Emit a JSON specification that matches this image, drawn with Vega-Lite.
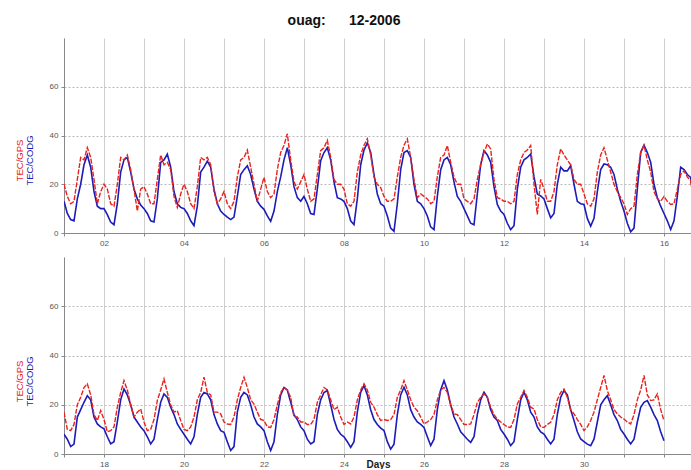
{
  "$schema": "https://vega.github.io/schema/vega-lite/v6.json",
  "background": "white",
  "padding": {"left": 14, "top": 14, "right": 0, "bottom": 0},
  "title": {"text": "ouag:\u00a0\u00a0\u00a0\u00a0\u00a0\u00a012-2006", "fontSize": 14, "font": "Liberation Sans", "fontWeight": "bold", "color": "#111", "anchor": "middle", "offset": 10, "dx": -9},
  "config": {
    "view": {"stroke": null},
    "axis": {"labelFont": "Liberation Sans", "labelFontSize": 8, "labelColor": "#555", "domainColor": "#888", "tickColor": "#888", "titleFont": "Liberation Sans"},
    "line": {"interpolate": "linear"}
  },
  "spacing": 10,
  "datasets": {
    "top": [
      {"t":1.000,"g":20,"c":13},{"t":1.083,"g":15,"c":8},{"t":1.167,"g":12,"c":5.5},{"t":1.250,"g":13,"c":5},{"t":1.333,"g":22,"c":14},{"t":1.417,"g":31,"c":20},{"t":1.500,"g":30,"c":28},{"t":1.583,"g":35,"c":32},{"t":1.667,"g":31,"c":27},{"t":1.750,"g":22,"c":17},{"t":1.833,"g":12,"c":11},{"t":1.917,"g":17,"c":10},
      {"t":2.000,"g":20,"c":10},{"t":2.083,"g":18,"c":7.5},{"t":2.167,"g":12,"c":4.5},{"t":2.250,"g":11,"c":3.4},{"t":2.333,"g":20,"c":12},{"t":2.417,"g":31,"c":25},{"t":2.500,"g":30,"c":30},{"t":2.583,"g":32,"c":31},{"t":2.667,"g":26,"c":25},{"t":2.750,"g":18,"c":18},{"t":2.833,"g":9,"c":14},{"t":2.917,"g":18,"c":11.5},
      {"t":3.000,"g":19,"c":10},{"t":3.083,"g":16,"c":8},{"t":3.167,"g":12,"c":5},{"t":3.250,"g":12,"c":4.5},{"t":3.333,"g":22,"c":14},{"t":3.417,"g":32,"c":29},{"t":3.500,"g":28,"c":30},{"t":3.583,"g":29,"c":32.4},{"t":3.667,"g":26,"c":27},{"t":3.750,"g":15,"c":17},{"t":3.833,"g":10.5,"c":12},{"t":3.917,"g":16,"c":10.5},
      {"t":4.000,"g":20,"c":10},{"t":4.083,"g":17,"c":8},{"t":4.167,"g":12,"c":5},{"t":4.250,"g":10,"c":3},{"t":4.333,"g":19,"c":11},{"t":4.417,"g":31,"c":25},{"t":4.500,"g":30,"c":27},{"t":4.583,"g":31,"c":29.5},{"t":4.667,"g":28,"c":27},{"t":4.750,"g":17,"c":18},{"t":4.833,"g":12,"c":12},{"t":4.917,"g":14,"c":9},
      {"t":5.000,"g":17,"c":7.6},{"t":5.083,"g":12,"c":6.5},{"t":5.167,"g":10,"c":5.5},{"t":5.250,"g":13,"c":6.5},{"t":5.333,"g":23,"c":15},{"t":5.417,"g":30,"c":24},{"t":5.500,"g":31,"c":26},{"t":5.583,"g":34,"c":27.6},{"t":5.667,"g":27,"c":24},{"t":5.750,"g":20,"c":18},{"t":5.833,"g":13,"c":13},{"t":5.917,"g":18,"c":11},
      {"t":6.000,"g":22.8,"c":9.7},{"t":6.083,"g":17,"c":7},{"t":6.167,"g":14.5,"c":4.8},{"t":6.250,"g":16,"c":9},{"t":6.333,"g":26,"c":17},{"t":6.417,"g":33,"c":23},{"t":6.500,"g":36,"c":30},{"t":6.583,"g":40.7,"c":35},{"t":6.667,"g":30,"c":28},{"t":6.750,"g":21,"c":19},{"t":6.833,"g":18,"c":14.5},{"t":6.917,"g":21,"c":13},
      {"t":7.000,"g":24,"c":15},{"t":7.083,"g":18,"c":12},{"t":7.167,"g":13,"c":8},{"t":7.250,"g":14,"c":7.6},{"t":7.333,"g":24,"c":18},{"t":7.417,"g":33.8,"c":29.7},{"t":7.500,"g":35,"c":33},{"t":7.583,"g":38,"c":35},{"t":7.667,"g":31,"c":30},{"t":7.750,"g":22,"c":21},{"t":7.833,"g":20,"c":14.5},{"t":7.917,"g":20,"c":14},
      {"t":8.000,"g":18,"c":13},{"t":8.083,"g":12,"c":10},{"t":8.167,"g":11,"c":5},{"t":8.250,"g":13,"c":3.4},{"t":8.333,"g":25,"c":14},{"t":8.417,"g":32,"c":28},{"t":8.500,"g":36,"c":34},{"t":8.583,"g":38.6,"c":37},{"t":8.667,"g":32,"c":33},{"t":8.750,"g":23,"c":24},{"t":8.833,"g":20,"c":16},{"t":8.917,"g":18.6,"c":12},
      {"t":9.000,"g":15,"c":11},{"t":9.083,"g":13,"c":7},{"t":9.167,"g":13,"c":2},{"t":9.250,"g":14,"c":0.7},{"t":9.333,"g":23,"c":12},{"t":9.417,"g":31,"c":26},{"t":9.500,"g":36,"c":33},{"t":9.583,"g":38.6,"c":33.8},{"t":9.667,"g":31,"c":31},{"t":9.750,"g":22,"c":20},{"t":9.833,"g":14.5,"c":13},{"t":9.917,"g":16,"c":12},
      {"t":10.000,"g":15,"c":10},{"t":10.083,"g":14,"c":7},{"t":10.167,"g":12,"c":2.5},{"t":10.250,"g":13,"c":1.4},{"t":10.333,"g":23,"c":15},{"t":10.417,"g":31,"c":26},{"t":10.500,"g":32,"c":30},{"t":10.583,"g":35.9,"c":31},{"t":10.667,"g":29,"c":28},{"t":10.750,"g":23,"c":21},{"t":10.833,"g":20,"c":15},{"t":10.917,"g":20,"c":13},
      {"t":11.000,"g":14,"c":10},{"t":11.083,"g":13,"c":7},{"t":11.167,"g":12,"c":4},{"t":11.250,"g":14,"c":3.4},{"t":11.333,"g":22,"c":16},{"t":11.417,"g":28,"c":28},{"t":11.500,"g":33,"c":33.8},{"t":11.583,"g":36.5,"c":32},{"t":11.667,"g":34.5,"c":29},{"t":11.750,"g":22,"c":19},{"t":11.833,"g":14.5,"c":11.7},{"t":11.917,"g":14,"c":9},
      {"t":12.000,"g":13,"c":7.6},{"t":12.083,"g":13,"c":4},{"t":12.167,"g":12,"c":1.4},{"t":12.250,"g":13,"c":3},{"t":12.333,"g":24,"c":18},{"t":12.417,"g":30,"c":27},{"t":12.500,"g":33,"c":30},{"t":12.583,"g":34,"c":31},{"t":12.667,"g":35.9,"c":32.4},{"t":12.750,"g":20,"c":23},{"t":12.833,"g":7.6,"c":16},{"t":12.917,"g":22,"c":15.2},
      {"t":13.000,"g":18,"c":14},{"t":13.083,"g":13,"c":10},{"t":13.167,"g":13,"c":6.2},{"t":13.250,"g":17,"c":8},{"t":13.333,"g":28,"c":20},{"t":13.417,"g":34.5,"c":27},{"t":13.500,"g":32,"c":25.5},{"t":13.583,"g":30,"c":25.5},{"t":13.667,"g":28,"c":27.6},{"t":13.750,"g":22,"c":20},{"t":13.833,"g":20,"c":13},{"t":13.917,"g":20,"c":12},
      {"t":14.000,"g":16,"c":11.7},{"t":14.083,"g":12,"c":6},{"t":14.167,"g":11,"c":2.8},{"t":14.250,"g":14,"c":6},{"t":14.333,"g":25,"c":17},{"t":14.417,"g":32,"c":26},{"t":14.500,"g":35,"c":28.3},{"t":14.583,"g":30,"c":28},{"t":14.667,"g":25,"c":27},{"t":14.750,"g":20,"c":24},{"t":14.833,"g":17,"c":18},{"t":14.917,"g":14.5,"c":13},
      {"t":15.000,"g":12,"c":9},{"t":15.083,"g":7.6,"c":4},{"t":15.167,"g":10,"c":0.5},{"t":15.250,"g":11,"c":2},{"t":15.333,"g":24,"c":18},{"t":15.417,"g":33,"c":33},{"t":15.500,"g":36,"c":36},{"t":15.583,"g":30,"c":33},{"t":15.667,"g":25,"c":29},{"t":15.750,"g":17,"c":20},{"t":15.833,"g":14,"c":14.5},{"t":15.917,"g":13,"c":11},
      {"t":16.000,"g":15,"c":8},{"t":16.083,"g":13,"c":5},{"t":16.167,"g":11.7,"c":1.4},{"t":16.250,"g":12,"c":5},{"t":16.333,"g":18,"c":15},{"t":16.417,"g":24,"c":27},{"t":16.500,"g":25.5,"c":26},{"t":16.583,"g":23,"c":24},{"t":16.667,"g":21.4,"c":22.8},{"t":16.700,"g":18,"c":18}
    ],
    "bot": [
      {"t":17.000,"g":17,"c":8},{"t":17.083,"g":10,"c":6},{"t":17.167,"g":9.5,"c":3},{"t":17.250,"g":12,"c":4},{"t":17.333,"g":20,"c":15},{"t":17.417,"g":23,"c":18},{"t":17.500,"g":27,"c":21},{"t":17.583,"g":28.5,"c":23.7},{"t":17.667,"g":24,"c":22},{"t":17.750,"g":16,"c":15},{"t":17.833,"g":13.6,"c":12.2},{"t":17.917,"g":17.6,"c":11},
      {"t":18.000,"g":14,"c":10.2},{"t":18.083,"g":9,"c":7},{"t":18.167,"g":9.5,"c":4.1},{"t":18.250,"g":11,"c":5},{"t":18.333,"g":19,"c":13},{"t":18.417,"g":25,"c":22},{"t":18.500,"g":29.8,"c":26.4},{"t":18.583,"g":26,"c":24},{"t":18.667,"g":20,"c":20},{"t":18.750,"g":15,"c":15},{"t":18.833,"g":17,"c":13},{"t":18.917,"g":18.3,"c":11},
      {"t":19.000,"g":13,"c":9.5},{"t":19.083,"g":9.5,"c":7},{"t":19.167,"g":10,"c":4.1},{"t":19.250,"g":14,"c":6},{"t":19.333,"g":21.7,"c":14},{"t":19.417,"g":26,"c":21},{"t":19.500,"g":30.5,"c":24.4},{"t":19.583,"g":25,"c":23},{"t":19.667,"g":20,"c":19},{"t":19.750,"g":17,"c":16},{"t":19.833,"g":17.6,"c":12.2},{"t":19.917,"g":13.6,"c":10},
      {"t":20.000,"g":10,"c":8},{"t":20.083,"g":9.5,"c":6},{"t":20.167,"g":11,"c":4.1},{"t":20.250,"g":15,"c":7},{"t":20.333,"g":22,"c":16},{"t":20.417,"g":25,"c":23},{"t":20.500,"g":31.2,"c":25},{"t":20.583,"g":25,"c":24.4},{"t":20.667,"g":24,"c":22},{"t":20.750,"g":17,"c":16},{"t":20.833,"g":17,"c":12.2},{"t":20.917,"g":16.3,"c":9.5},
      {"t":21.000,"g":13,"c":8.8},{"t":21.083,"g":12.2,"c":5},{"t":21.167,"g":12,"c":1.4},{"t":21.250,"g":15,"c":3},{"t":21.333,"g":22,"c":17},{"t":21.417,"g":27,"c":23},{"t":21.500,"g":31.2,"c":25},{"t":21.583,"g":27,"c":24},{"t":21.667,"g":22,"c":20},{"t":21.750,"g":20.3,"c":15},{"t":21.833,"g":17,"c":12.2},{"t":21.917,"g":14,"c":11},
      {"t":22.000,"g":13.6,"c":9.5},{"t":22.083,"g":11,"c":5},{"t":22.167,"g":10.8,"c":1.4},{"t":22.250,"g":14,"c":5},{"t":22.333,"g":20,"c":16},{"t":22.417,"g":25,"c":24},{"t":22.500,"g":27,"c":27},{"t":22.583,"g":26,"c":26},{"t":22.667,"g":23,"c":21},{"t":22.750,"g":15,"c":16},{"t":22.833,"g":15,"c":14},{"t":22.917,"g":13,"c":11},
      {"t":23.000,"g":13,"c":9.5},{"t":23.083,"g":12,"c":6},{"t":23.167,"g":12,"c":4.1},{"t":23.250,"g":14,"c":5},{"t":23.333,"g":21,"c":16},{"t":23.417,"g":24,"c":22},{"t":23.500,"g":27,"c":25},{"t":23.583,"g":26,"c":25.8},{"t":23.667,"g":22,"c":20},{"t":23.750,"g":18,"c":14},{"t":23.833,"g":19,"c":10},{"t":23.917,"g":15,"c":8},
      {"t":24.000,"g":12,"c":7},{"t":24.083,"g":13,"c":5},{"t":24.167,"g":12.2,"c":2.7},{"t":24.250,"g":15,"c":5},{"t":24.333,"g":22,"c":17},{"t":24.417,"g":26,"c":25},{"t":24.500,"g":28.5,"c":27.8},{"t":24.583,"g":26,"c":24},{"t":24.667,"g":21,"c":18},{"t":24.750,"g":19,"c":14},{"t":24.833,"g":16,"c":12},{"t":24.917,"g":13.6,"c":10.5},
      {"t":25.000,"g":14,"c":9.5},{"t":25.083,"g":13.6,"c":5},{"t":25.167,"g":14,"c":2},{"t":25.250,"g":16,"c":4},{"t":25.333,"g":23,"c":16},{"t":25.417,"g":26,"c":24},{"t":25.500,"g":29.8,"c":27.1},{"t":25.583,"g":26,"c":24},{"t":25.667,"g":22,"c":18},{"t":25.750,"g":19,"c":15},{"t":25.833,"g":17.6,"c":13},{"t":25.917,"g":15,"c":12},
      {"t":26.000,"g":12.2,"c":10.8},{"t":26.083,"g":13,"c":7},{"t":26.167,"g":14,"c":3.4},{"t":26.250,"g":16,"c":6},{"t":26.333,"g":22,"c":18},{"t":26.417,"g":26,"c":26},{"t":26.500,"g":27,"c":29.8},{"t":26.583,"g":25,"c":26},{"t":26.667,"g":20,"c":20},{"t":26.750,"g":16.3,"c":15},{"t":26.833,"g":16,"c":12.2},{"t":26.917,"g":14,"c":9},
      {"t":27.000,"g":12,"c":7.5},{"t":27.083,"g":12,"c":6},{"t":27.167,"g":12.2,"c":4.7},{"t":27.250,"g":16,"c":7},{"t":27.333,"g":21,"c":16},{"t":27.417,"g":23,"c":22},{"t":27.500,"g":24.4,"c":25.1},{"t":27.583,"g":23,"c":23},{"t":27.667,"g":19,"c":18},{"t":27.750,"g":16,"c":15},{"t":27.833,"g":14.2,"c":13.6},{"t":27.917,"g":13,"c":10},
      {"t":28.000,"g":12,"c":8.1},{"t":28.083,"g":11,"c":6},{"t":28.167,"g":10.8,"c":3.4},{"t":28.250,"g":14,"c":5},{"t":28.333,"g":20.3,"c":14},{"t":28.417,"g":23,"c":22},{"t":28.500,"g":25.8,"c":25.1},{"t":28.583,"g":23,"c":22},{"t":28.667,"g":19,"c":17},{"t":28.750,"g":18.3,"c":15},{"t":28.833,"g":14,"c":11},{"t":28.917,"g":11,"c":9},
      {"t":29.000,"g":10.8,"c":8.1},{"t":29.083,"g":12,"c":6},{"t":29.167,"g":12.9,"c":4.1},{"t":29.250,"g":16,"c":6},{"t":29.333,"g":22,"c":16},{"t":29.417,"g":25,"c":23},{"t":29.500,"g":26.4,"c":25.8},{"t":29.583,"g":23,"c":24},{"t":29.667,"g":18,"c":18},{"t":29.750,"g":16.3,"c":13.6},{"t":29.833,"g":14,"c":9},{"t":29.917,"g":12,"c":6.1},
      {"t":30.000,"g":9.5,"c":5},{"t":30.083,"g":11,"c":4},{"t":30.167,"g":13.6,"c":3.4},{"t":30.250,"g":17,"c":6},{"t":30.333,"g":22,"c":13},{"t":30.417,"g":27,"c":20},{"t":30.500,"g":31.9,"c":22},{"t":30.583,"g":25.8,"c":23.7},{"t":30.667,"g":22,"c":20},{"t":30.750,"g":18,"c":16},{"t":30.833,"g":16.3,"c":13.6},{"t":30.917,"g":15,"c":10},
      {"t":31.000,"g":14.2,"c":8.1},{"t":31.083,"g":13,"c":6},{"t":31.167,"g":12.2,"c":4.1},{"t":31.250,"g":16,"c":6},{"t":31.333,"g":22,"c":13},{"t":31.417,"g":26,"c":19},{"t":31.500,"g":31.9,"c":21},{"t":31.583,"g":24,"c":21.7},{"t":31.667,"g":21.7,"c":19},{"t":31.750,"g":22,"c":16},{"t":31.833,"g":24.4,"c":13.6},{"t":31.917,"g":18,"c":9},{"t":32.000,"g":13.6,"c":5.4}
    ]
  },
  "vconcat": [
    {
      "width": 628, "height": 195,
      "data": {"name": "top"},
      "resolve": {"axis": {"y": "independent"}},
      "layer": [
        {
          "mark": {"type": "line", "color": "#1c1cb8", "strokeWidth": 1.6, "clip": true},
          "encoding": {
            "x": {"field": "t", "type": "quantitative", "scale": {"domain": [1, 16.7], "nice": false, "zero": false},
                  "axis": {"values": [1,2,3,4,5,6,7,8,9,10,11,12,13,14,15,16], "labelExpr": "datum.value % 2 == 0 ? (datum.value < 10 ? '0' + datum.value : '' + datum.value) : ''", "title": null, "grid": true, "gridColor": "#cfcfcf", "tickSize": 3, "labelPadding": 3, "labelFlush": false}},
            "y": {"field": "c", "type": "quantitative", "scale": {"domain": [0, 80], "nice": false},
                  "axis": {"orient": "left", "values": [0,20,40,60], "title": "TEC/GPS", "titleColor": "#e8221c", "titleFontSize": 9.5, "titleFontWeight": "normal", "titleX": -40, "titleY": 122, "titleAngle": 270, "titleAlign": "center", "titleBaseline": "bottom", "grid": true, "gridColor": "#bbbbbb", "gridDash": [2,2], "tickSize": 3, "labelPadding": 3}}
          }
        },
        {
          "mark": {"type": "line", "color": "#e8221c", "strokeWidth": 1.4, "strokeDash": [5, 1.5], "clip": true},
          "encoding": {
            "x": {"field": "t", "type": "quantitative"},
            "y": {"field": "g", "type": "quantitative",
                  "axis": {"orient": "left", "title": "TEC/CODG", "titleColor": "#1c1cb8", "titleFontSize": 9.5, "titleFontWeight": "normal", "titleX": -30, "titleY": 122, "titleAngle": 270, "titleAlign": "center", "titleBaseline": "bottom", "labels": false, "ticks": false, "domain": false, "grid": false}}
          }
        }
      ]
    },
    {
      "width": 628, "height": 197,
      "data": {"name": "bot"},
      "resolve": {"axis": {"y": "independent"}},
      "layer": [
        {
          "mark": {"type": "line", "color": "#1c1cb8", "strokeWidth": 1.6, "clip": true},
          "encoding": {
            "x": {"field": "t", "type": "quantitative", "scale": {"domain": [17, 32.7], "nice": false, "zero": false},
                  "axis": {"values": [17,18,19,20,21,22,23,24,25,26,27,28,29,30,31,32], "labelExpr": "datum.value % 2 == 0 && datum.value < 32 ? '' + datum.value : ''", "title": "Days", "titleFontSize": 10, "titleFontWeight": "bold", "titleColor": "#222", "titlePadding": -9, "grid": true, "gridColor": "#cfcfcf", "tickSize": 3, "labelPadding": 3, "labelFlush": false}},
            "y": {"field": "c", "type": "quantitative", "scale": {"domain": [0, 80], "nice": false},
                  "axis": {"orient": "left", "values": [0,20,40,60], "title": "TEC/GPS", "titleColor": "#e8221c", "titleFontSize": 9.5, "titleFontWeight": "normal", "titleX": -40, "titleY": 124, "titleAngle": 270, "titleAlign": "center", "titleBaseline": "bottom", "grid": true, "gridColor": "#bbbbbb", "gridDash": [2,2], "tickSize": 3, "labelPadding": 3}}
          }
        },
        {
          "mark": {"type": "line", "color": "#e8221c", "strokeWidth": 1.4, "strokeDash": [5, 1.5], "clip": true},
          "encoding": {
            "x": {"field": "t", "type": "quantitative"},
            "y": {"field": "g", "type": "quantitative",
                  "axis": {"orient": "left", "title": "TEC/CODG", "titleColor": "#1c1cb8", "titleFontSize": 9.5, "titleFontWeight": "normal", "titleX": -30, "titleY": 124, "titleAngle": 270, "titleAlign": "center", "titleBaseline": "bottom", "labels": false, "ticks": false, "domain": false, "grid": false}}
          }
        }
      ]
    }
  ]
}
